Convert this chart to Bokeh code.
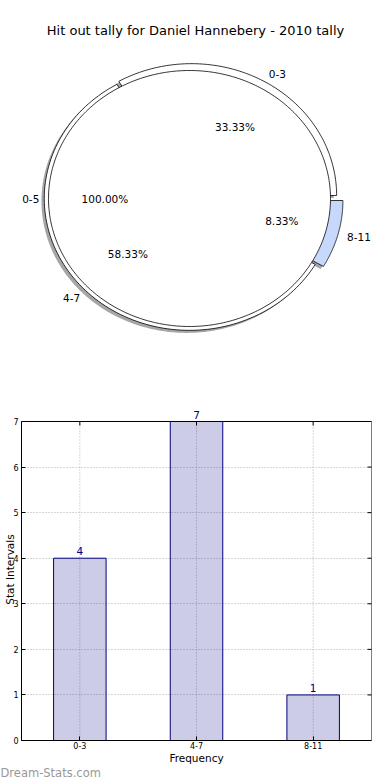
import numpy as np
from bokeh.plotting import figure
from bokeh.models import (ColumnDataSource, Range1d, FactorRange, LabelSet, Title,
                          FixedTicker)
from bokeh.layouts import column
from bokeh.embed import file_html
from bokeh.resources import INLINE
from bokeh.core.properties import value

# ---------------- data ----------------
TITLE = "Hit out tally for Daniel Hannebery - 2010 tally"
pie_labels = ["0-3", "4-7", "8-11"]
pie_counts = [4, 7, 1]
pie_colors = ["#ffffff", "#ffffff", "#c6d9fd"]
pie_explode = [0.027, 0.0, 0.06]
whole_label = "0-5"
whole_counts = [12]

bar_categories = ["0-3", "4-7", "8-11"]
bar_counts = [4, 7, 1]
y_ticks = [0, 1, 2, 3, 4, 5, 6, 7]
x_axis_label = "Frequency"
y_axis_label = "Stat Intervals"
watermark = "Dream-Stats.com"

FONT = "DejaVu Sans"
NAVY = "#000080"

# ---------------- layout constants ----------------
W = 390
H1 = 388
H2 = 392
BL, BR = 21, 19            # left / right borders (shared by both plots)
PCX, PCY = 189, 198        # pie centre (page px)
RX, RY = 141, 128          # pixels per pie-radius unit
R_SLICE = 1.03
LABEL_DIST = 1.065
BOX_TOP, FRAME_TOP, FRAME_BOTTOM = 33, 10, 352   # bar plot, px from its top
TICK_LEN = 4

# ---------------- pie ----------------
p1 = figure(width=W, height=H1, output_backend="svg", toolbar_location=None,
            x_range=Range1d((BL - PCX) / RX, (W - BR - PCX) / RX),
            y_range=Range1d(-(H1 - PCY) / RY, PCY / RY),
            x_axis_location=None, y_axis_location=None,
            min_border_left=BL, min_border_right=BR, min_border_top=0,
            min_border_bottom=0, outline_line_color=None)
p1.grid.visible = False

counts = np.array(pie_counts, dtype=float)
fracs = counts / counts.sum()
ends = np.cumsum(fracs) * 2 * np.pi
starts = ends - fracs * 2 * np.pi


def wedge(cx, cy, r, a0, a1, n=120):
    t = np.linspace(a0, a1, n)
    xs = np.concatenate([[cx], cx + r * np.cos(t), [cx]])
    ys = np.concatenate([[cy], cy + r * np.sin(t), [cy]])
    return list(xs), list(ys)


sx, sy, wx, wy = [], [], [], []
for a0, a1, e in zip(starts, ends, pie_explode):
    mid = (a0 + a1) / 2
    cx, cy = e * np.cos(mid), e * np.sin(mid)
    xs, ys = wedge(cx, cy, R_SLICE, a0, a1)
    wx.append(xs)
    wy.append(ys)
    sx.append([x - 0.02 for x in xs])
    sy.append([y - 0.02 for y in ys])

p1.patches(sx, sy, fill_color="#4d4d4d", fill_alpha=0.5, line_color=None)
p1.patches(wx, wy, fill_color=pie_colors, line_color="black", line_width=0.8)

whole_frac = np.array(whole_counts) / np.sum(whole_counts)
wx0, wy0 = wedge(0, 0, 1.0, 0, 2 * np.pi * whole_frac[0], n=360)
p1.patch(wx0[1:-1], wy0[1:-1], fill_color="white", line_color="black", line_width=0.8)

for a0, a1, e, lab, fr in zip(starts, ends, pie_explode, pie_labels, fracs):
    mid = (a0 + a1) / 2
    c, s = np.cos(mid), np.sin(mid)
    lx, ly = (e + LABEL_DIST * R_SLICE) * c, (e + LABEL_DIST * R_SLICE) * s
    px, py = (e + 0.6 * R_SLICE) * c, (e + 0.6 * R_SLICE) * s
    p1.text(x=[lx], y=[ly], text=[lab], text_align="left" if c > 0 else "right",
            text_baseline="middle", text_font=value(FONT), text_font_size="10.5px",
            text_color="black")
    p1.text(x=[px], y=[py], text=["%.2f%%" % (fr * 100)], text_align="center",
            text_baseline="middle", text_font=value(FONT), text_font_size="10.5px",
            text_color="black")

wmid = np.pi * whole_frac[0]
p1.text(x=[LABEL_DIST * np.cos(wmid)], y=[LABEL_DIST * np.sin(wmid)],
        text=[whole_label], text_align="right", text_baseline="middle",
        text_font=value(FONT), text_font_size="10.5px", text_color="black")
p1.text(x=[0.6 * np.cos(wmid)], y=[0.6 * np.sin(wmid)],
        text=["%.2f%%" % (whole_frac[0] * 100)], text_align="center",
        text_baseline="middle", text_font=value(FONT), text_font_size="10.5px",
        text_color="black")

p1.text(x=[6 / RX], y=[(PCY - 30) / RY], text=[TITLE], text_align="center",
        text_baseline="middle", text_font=value(FONT), text_font_size="13px",
        text_color="black")

# ---------------- bars ----------------
y_lo, y_hi = y_ticks[0], y_ticks[-1]
y_end = y_lo + (y_hi - y_lo) * (FRAME_BOTTOM - FRAME_TOP) / (FRAME_BOTTOM - BOX_TOP)
px_per_y = (FRAME_BOTTOM - BOX_TOP) / (y_hi - y_lo)

p2 = figure(width=W, height=H2, output_backend="svg", toolbar_location=None,
            x_range=FactorRange(*bar_categories, range_padding=0),
            y_range=Range1d(y_lo, y_end),
            min_border_left=BL, min_border_right=BR, min_border_top=FRAME_TOP,
            min_border_bottom=H2 - FRAME_BOTTOM, outline_line_color=None)
p2.xgrid.visible = False

src = ColumnDataSource(dict(cat=bar_categories, count=bar_counts,
                            lbl=[str(c) for c in bar_counts],
                            lo=[y_lo] * len(bar_categories),
                            hi=[y_hi] * len(bar_categories),
                            tick=[y_hi - TICK_LEN / px_per_y] * len(bar_categories)))

# vertical dotted grid at the categories, limited to the axes box
p2.segment(x0="cat", y0="lo", x1="cat", y1="hi", source=src, line_color="#b0b0b0",
           line_dash="1 2", line_width=1)
p2.ygrid.grid_line_color = "#b0b0b0"
p2.ygrid.grid_line_dash = "1 2"
p2.ygrid.grid_line_width = 1
p2.ygrid.ticker = FixedTicker(ticks=y_ticks)

p2.vbar(x="cat", top="count", width=0.45, source=src, fill_color=NAVY,
        fill_alpha=0.2, line_color=NAVY, line_width=1)

# axes box with inward ticks on the top and right sides
p2.quad(left=[0], right=[len(bar_categories)], bottom=[y_lo], top=[y_hi],
        fill_color=None, line_color="black", line_width=1)
p2.segment(x0="cat", y0="hi", x1="cat", y1="tick", source=src,
           line_color="black", line_width=1)
p2.scatter(x=[len(bar_categories)] * len(y_ticks), y=y_ticks, marker="dash",
           size=2 * TICK_LEN, line_color="black", line_width=1)

p2.add_layout(LabelSet(x="cat", y="count", text="lbl", source=src, y_offset=3,
                       text_align="center", text_baseline="bottom",
                       text_font=value(FONT), text_font_size="10.5px",
                       text_color=NAVY))

p2.yaxis.ticker = FixedTicker(ticks=y_ticks)
p2.yaxis.bounds = (y_lo, y_hi)
p2.xaxis.axis_label = x_axis_label
p2.yaxis.axis_label = y_axis_label

for ax in p2.axis:
    ax.major_tick_in = TICK_LEN
    ax.major_tick_out = 0
    ax.minor_tick_line_color = None
    ax.axis_line_color = "black"
    ax.major_tick_line_color = "black"
    ax.major_label_text_font = FONT
    ax.major_label_text_font_size = "8px"
    ax.major_label_text_color = "black"
    ax.axis_label_text_font = FONT
    ax.axis_label_text_font_size = "10.5px"
    ax.axis_label_text_font_style = "normal"
    ax.axis_label_text_color = "black"
p2.xaxis.major_label_standoff = 1
p2.xaxis.axis_label_standoff = 0
p2.yaxis.major_label_standoff = 3
p2.yaxis.axis_label_standoff = -6

p2.add_layout(Title(text=watermark, align="left", offset=-BL, standoff=-6,
                    text_font=FONT, text_font_size="11.5px",
                    text_font_style="normal", text_color="#999999"), "below")

layout = column(p1, p2)
open("out.html", "w").write(file_html(layout, INLINE))
